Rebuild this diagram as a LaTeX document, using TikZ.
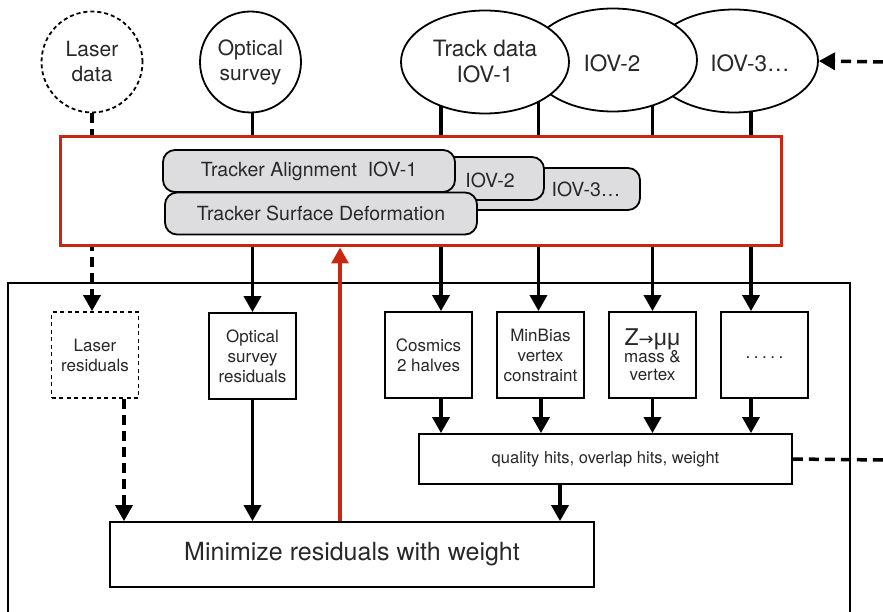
\documentclass[tikz,border=0pt]{standalone}
\usepackage{fontspec}
\setmainfont{TeX Gyre Heros}
\newfontfamily\symfont{DejaVu Sans}
\newfontfamily\libfont{Liberation Sans}
\usetikzlibrary{arrows.meta,shapes.geometric}
\definecolor{redbox}{RGB}{200,40,18}
\definecolor{graybox}{RGB}{221,221,223}
\definecolor{txt}{RGB}{40,40,40}
\tikzset{
  conn/.style={line width=3.5pt, black},
  arr/.style={conn, -{Triangle[width=17pt,length=16pt]}},
  dconn/.style={conn, dash pattern=on 10pt off 6pt},
  darr/.style={dconn, -{Triangle[width=17pt,length=16pt]}},
  circ/.style={draw, circle, fill=white, line width=1.8pt, minimum size=101pt, inner sep=0pt, align=center, text=txt, font=\fontsize{21}{25}\selectfont},
  ell/.style={draw, ellipse, fill=white, line width=1.8pt, minimum width=168pt, minimum height=103pt, inner sep=0pt, align=center, text=txt, font=\fontsize{22.5}{26}\selectfont},
  gbox/.style={draw, rounded corners=12pt, fill=graybox, line width=1.8pt, inner sep=0pt, text=txt, font=\fontsize{19.5}{23}\selectfont},
  sbox/.style={draw, fill=white, line width=1.8pt, minimum width=87pt, minimum height=86pt, inner sep=0pt, align=center, text=txt, font=\fontsize{17}{20}\selectfont},
}
\begin{document}
\begin{tikzpicture}[x=1pt,y=-1pt]
\useasboundingbox (0,0) rectangle (883,612);
% outer box (open at bottom)
\draw[line width=1.6pt] (8,612) -- (8,283) -- (850,283) -- (850,612);

% coordinates
\coordinate (rightA) at (883,62);
\coordinate (rightB) at (883,460);

% lower boxes
\node[sbox, dash pattern=on 4pt off 3.5pt] (lres) at (95,355) {Laser\\residuals};
\node[sbox] (ores) at (252.5,356) {Optical\\survey\\residuals};
\node[sbox] (cos) at (428.5,355) {Cosmics\\2 halves};
\node[sbox] (minb) at (540.5,355) {MinBias\\vertex\\constraint};
\node[sbox] (zmm) at (652.5,355) {{\fontsize{23}{24}\selectfont Z{\symfont\fontsize{18}{20}\selectfont→}{\libfont μμ}}\\[-3pt]mass \&\\[-2pt]vertex};
\node[sbox] (dots) at (764.5,355) {\raisebox{-6pt}{.\hspace{3.5pt}.\hspace{3.5pt}.\hspace{3.5pt}.\hspace{3.5pt}.}};
\node[draw, fill=white, line width=1.8pt, minimum width=373pt, minimum height=50pt, inner sep=0pt, text=txt, font=\fontsize{16.5}{20}\selectfont] (qual) at (605.5,459) {quality hits, overlap hits, weight};
\node[draw, fill=white, line width=1.8pt, minimum width=484pt, minimum height=65pt, inner sep=0pt, text=txt, font=\fontsize{25}{30}\selectfont] (mini) at (352,554.5) {Minimize residuals with weight};

% top data nodes
\node[circ, dash pattern=on 4pt off 3pt] (laser) at (92,62) {Laser\\data};
\node[circ] (optical) at (250.5,62) {Optical\\survey};

% connectors from sources (drawn before ellipses/red box)
\draw[darr] (laser.south) -- (lres.north -| laser.south);
\draw[arr] (optical.south -| ores.north) -- (ores.north);
\draw[arr] (441,100) -- (cos.north -| 441,0);
\draw[arr] (538.5,100) -- (minb.north -| 538.5,0);
\draw[arr] (652.5,100) -- (zmm.north);
\draw[arr] (751,100) -- (dots.north -| 751,0);

% ellipses
\node[ell] (iov3) at (734,61) {};
\node[ell] (iov2) at (613,60) {};
\node[ell] (trk) at (485,62) {Track data\\IOV-1};
\node[text=txt, font=\fontsize{22.5}{26}\selectfont] at (612,63) {IOV-2};
\node[text=txt, font=\fontsize{22.5}{26}\selectfont] at (750,63) {IOV-3…};

% red box
\node[draw=redbox, fill=white, line width=3pt, minimum width=721pt, minimum height=109pt, inner sep=0pt] (red) at (420.5,191.5) {};

% gray boxes
\draw[gbox] (400,168) rectangle (640,210);
\node[text=txt, font=\fontsize{19.5}{23}\selectfont] (g3) at (586,189) {IOV-3…};
\draw[gbox] (300,157) rectangle (544,200);
\node[text=txt, font=\fontsize{19.5}{23}\selectfont] (g2) at (490,180) {IOV-2};
\node[gbox, minimum width=292pt, minimum height=42pt] (g1) at (309,171) {Tracker Alignment\ \ IOV-1};
\node[gbox, minimum width=312pt, minimum height=42pt] (gs) at (321,213.5) {Tracker Surface Deformation};

% lower connectors
\draw[darr] (lres.south -| 124,0) -- (mini.north -| 124,0);
\draw[arr] (ores.south) -- (mini.north -| ores.south);
\draw[line width=3.5pt, redbox, -{Triangle[width=17pt,length=16pt]}] (mini.north -| 340,0) -- (red.south -| 340,0);
\draw[arr] (cos.south -| 441,0) -- (qual.north -| 441,0);
\draw[arr] (minb.south -| 541,0) -- (qual.north -| 541,0);
\draw[arr] (zmm.south) -- (qual.north -| zmm.south);
\draw[arr] (dots.south -| 751,0) -- (qual.north -| 751,0);
\draw[arr] (qual.south -| 560,0) -- (mini.north -| 560,0);
\draw[dconn] (qual.east) -- (rightB);
\draw[darr] (rightA) -- (iov3.east);
\end{tikzpicture}
\end{document}
